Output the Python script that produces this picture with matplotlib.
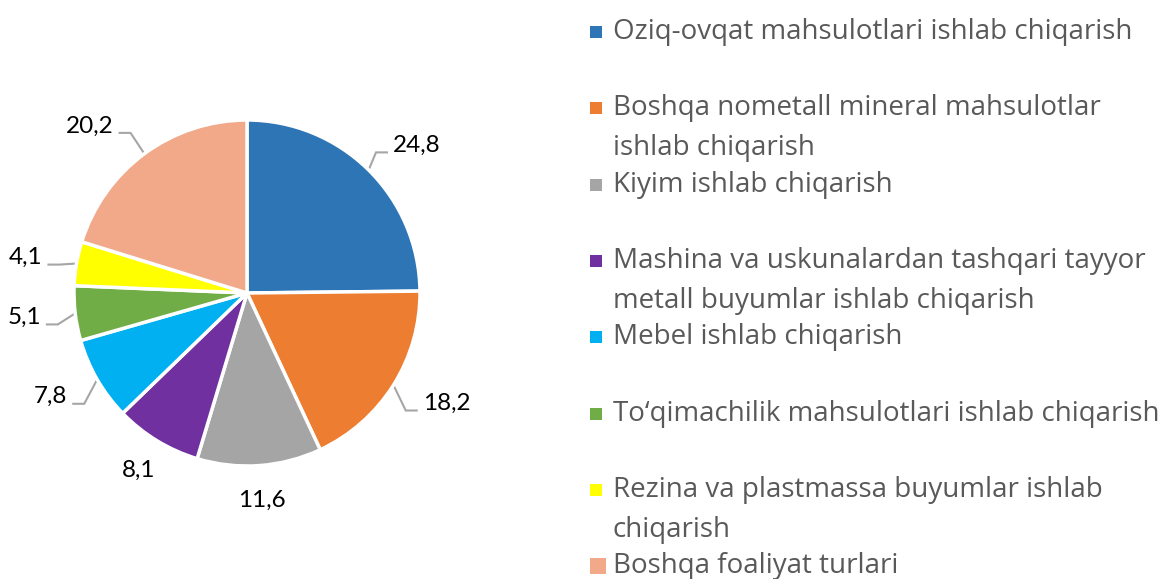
import numpy as np
import matplotlib
matplotlib.use("Agg")
import matplotlib.pyplot as plt

categories = [
    "Oziq-ovqat mahsulotlari ishlab chiqarish",
    "Boshqa nometall mineral mahsulotlar\nishlab chiqarish",
    "Kiyim ishlab chiqarish",
    "Mashina va uskunalardan tashqari tayyor\nmetall buyumlar ishlab chiqarish",
    "Mebel ishlab chiqarish",
    "To\u2018qimachilik mahsulotlari ishlab chiqarish",
    "Rezina va plastmassa buyumlar ishlab\nchiqarish",
    "Boshqa foaliyat turlari",
]
values = [24.8, 18.2, 11.6, 8.1, 7.8, 5.1, 4.1, 20.2]
value_labels = ["24,8", "18,2", "11,6", "8,1", "7,8", "5,1", "4,1", "20,2"]
colors = ["#2E75B6", "#ED7D31", "#A5A5A5", "#7030A0", "#00B0F0",
          "#70AD47", "#FFFF00", "#F1A98A"]

W, H = 1165, 579
fig = plt.figure(figsize=(W / 100, H / 100), dpi=100)
ax = fig.add_axes([0, 0, 1, 1])

cx, cy, R = 247, H - 293, 173
wedges, _ = ax.pie(values, colors=colors, startangle=90, counterclock=False,
                   center=(cx, cy), radius=R, frame=False,
                   wedgeprops=dict(edgecolor="white", linewidth=2.5))
ax.set_xlim(0, W)
ax.set_ylim(0, H)
ax.set_aspect("equal")
ax.axis("off")

label_font = dict(family=["Lato", "DejaVu Sans"], size=17.5, color="black")
for w, lab in zip(wedges, value_labels):
    mid = np.deg2rad((w.theta1 + w.theta2) / 2)
    dx, dy = np.cos(mid), np.sin(mid)
    if abs(dx) > 0.55:
        r_l = 1.2 if abs(dx) > 0.65 else 1.3
        tx, ty = cx + r_l * R * dx, cy + 1.2 * R * dy
        s = np.sign(dx)
        ax.text(tx, ty, lab, ha="left" if s > 0 else "right", va="center",
                **label_font)
        x0, y0 = cx + R * dx, cy + R * dy
        ly = ty - 7
        x1 = tx - s * 17
        x2 = tx - s * 5
        if s * (x1 - x0) < 0:
            x1 = x0
        ax.plot([x0, x1, x2], [y0, ly, ly], color="#A6A6A6", lw=1.5,
                solid_capstyle="butt", solid_joinstyle="miter", zorder=0)
    else:
        tx, ty = cx + 1.2 * R * dx, cy + 1.2 * R * dy
        ax.text(tx, ty, lab, ha="center", va="center", **label_font)

leg_font = dict(family=["Open Sans", "DejaVu Sans"], size=20, color="#595959")
y_top = 32
step = 76.3
for i, (cat, col) in enumerate(zip(categories, colors)):
    yc = H - (y_top + i * step)
    sq = 12 if i < 7 else 16
    ax.add_patch(plt.Rectangle((590, yc - sq / 2), sq, sq, color=col, lw=0))
    for j, ln in enumerate(cat.split("\n")):
        ax.text(613, yc - j * 40, ln, ha="left", va="center", **leg_font)

fig.savefig("out.png", dpi=100)
